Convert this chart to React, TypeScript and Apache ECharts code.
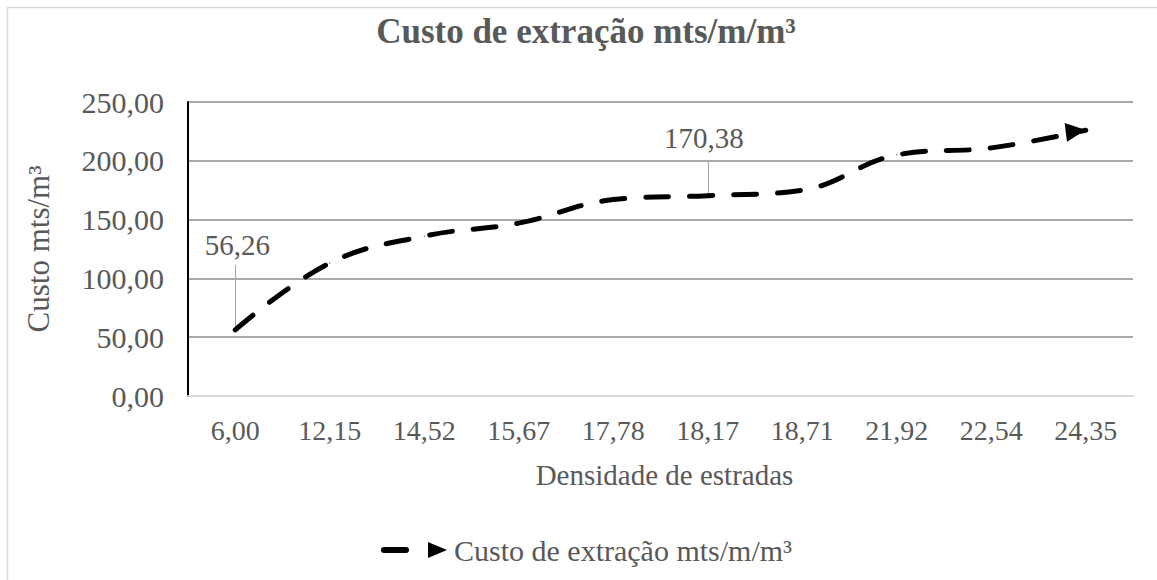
import React, { useEffect, useRef } from "react";
import * as echarts from "echarts";

const categories = ["6,00", "12,15", "14,52", "15,67", "17,78", "18,17", "18,71", "21,92", "22,54", "24,35"];
const values = [56.26, 113, 136, 147, 167, 170.38, 175, 205, 211, 226];
const labelledIndex = [0, 5];
const leaderLength = [55, 30];
const yMin = 0;
const yMax = 250;
const yStep = 50;

const FONT = "Liberation Serif";
const TXT = "#595959";

const fmt = (v: number) => v.toFixed(2).replace(".", ",");

export default function App() {
  const ref = useRef<HTMLDivElement>(null);
  useEffect(() => {
    if (!ref.current) return;
    const chart = echarts.init(ref.current, undefined, { renderer: "svg" });
    const labelOffsets: Record<number, number[]> = { 0: [2, -65], 5: [-4, -38] };
    const data = values.map((v, i) => {
      const item: any = { value: v };
      if (labelledIndex.includes(i)) {
        item.label = {
          show: true,
          position: "top",
          offset: labelOffsets[i],
          formatter: fmt(v),
          fontFamily: FONT,
          fontSize: 29,
          color: TXT,
        };
      }
      if (i === values.length - 1) {
        item.symbol = "triangle";
        item.symbolSize = [19, 20];
        item.symbolRotate = -83;
        item.symbolOffset = [-10, 1];
      }
      return item;
    });
    const leaders = labelledIndex.map((idx, k) => [
      { coord: [idx, values[idx]] },
      { coord: [idx, values[idx] + leaderLength[k]] },
    ]);
    chart.setOption({
      animation: false,
      backgroundColor: "#ffffff",
      title: {
        text: "Custo de extração mts/m/m³",
        left: 581,
        textAlign: "center",
        top: 9,
        textStyle: { fontFamily: FONT, fontSize: 35, fontWeight: "bold", color: TXT },
      },
      graphic: [
        {
          type: "rect",
          shape: { x: 7.5, y: 7.5, width: 1300, height: 800 },
          style: { fill: "none", stroke: "#d9d9d9", lineWidth: 1.5 },
          silent: true,
        },
      ],
      grid: { left: 188, right: 24, top: 102, bottom: 184 },
      legend: {
        left: 376,
        top: 530,
        itemWidth: 66,
        itemHeight: 16,
        icon: "path://M3,5 L25,5 A3,3 0 0 1 25,11 L3,11 A3,3 0 0 1 3,5 Z M47,0 L66,8 L47,16 Z",
        itemStyle: { color: "#000000", borderWidth: 0 },
        textStyle: { fontFamily: FONT, fontSize: 30, color: TXT, padding: [0, 0, 0, 2] },
        data: ["Custo de extração mts/m/m³"],
      },
      xAxis: {
        type: "category",
        data: categories,
        boundaryGap: true,
        name: "Densidade de estradas",
        nameLocation: "middle",
        nameGap: 64,
        nameTextStyle: { fontFamily: FONT, fontSize: 29, color: TXT, padding: [0, 0, 0, 8] },
        axisLine: { show: true, lineStyle: { color: "#d9d9d9", width: 2 } },
        axisTick: { show: false },
        axisLabel: { fontFamily: FONT, fontSize: 28, color: TXT, margin: 20 },
        splitLine: { show: false },
      },
      yAxis: {
        type: "value",
        min: yMin,
        max: yMax,
        interval: yStep,
        name: "Custo mts/m³",
        nameLocation: "middle",
        nameGap: 134,
        nameTextStyle: { fontFamily: FONT, fontSize: 31, color: TXT },
        axisLine: { show: true, lineStyle: { color: "#000000", width: 2 } },
        axisTick: { show: false },
        axisLabel: { fontFamily: FONT, fontSize: 30, color: TXT, margin: 24, formatter: (v: number) => fmt(v) },
        splitLine: {
          show: true,
          lineStyle: { color: ["#d9d9d9", "#8c8c8c", "#8c8c8c", "#8c8c8c", "#8c8c8c", "#8c8c8c"], width: 1.5 },
        },
      },
      series: [
        {
          name: "Custo de extração mts/m/m³",
          type: "line",
          data,
          smooth: 0.4,
          symbol: "circle",
          symbolSize: 1,
          showSymbol: true,
          itemStyle: { color: "#000000" },
          lineStyle: { color: "#000000", width: 5, type: [23, 21], cap: "round" },
          label: { show: false },
          z: 3,
          markLine: {
            silent: true,
            symbol: "none",
            label: { show: false },
            lineStyle: { color: "#a6a6a6", width: 1, type: "solid" },
            data: leaders,
            z: 2,
          },
        },
      ],
    });
    return () => chart.dispose();
  }, []);
  return (
    <div style={{ position: "absolute", left: 0, top: 0, width: 1157, height: 580 }}>
      <div ref={ref} style={{ width: 1157, height: 580 }} />
    </div>
  );
}
